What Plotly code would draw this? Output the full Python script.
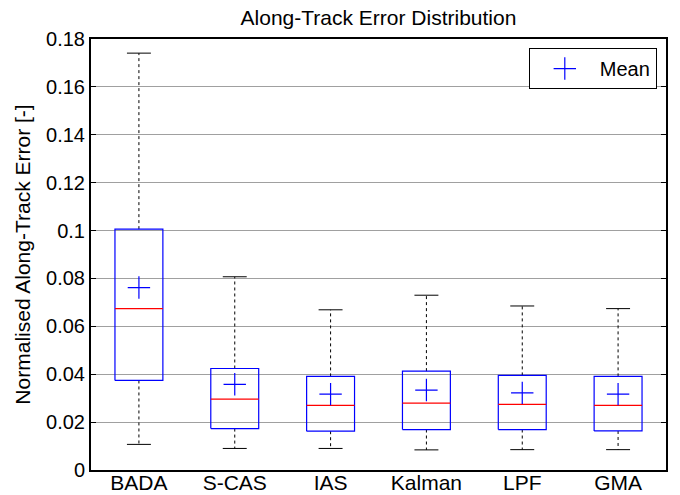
import plotly.graph_objects as go

# Summary statistics of normalised along-track error per speed source
categories = ["BADA", "S-CAS", "IAS", "Kalman", "LPF", "GMA"]
lower_whisker = [0.0107, 0.0090, 0.0090, 0.0084, 0.0085, 0.0085]
q1 = [0.0374, 0.0173, 0.0162, 0.0169, 0.0169, 0.0163]
median = [0.0674, 0.0296, 0.0270, 0.0279, 0.0274, 0.0270]
q3 = [0.1006, 0.0424, 0.0391, 0.0413, 0.0395, 0.0391]
upper_whisker = [0.1741, 0.0807, 0.0669, 0.0730, 0.0685, 0.0674]
mean = [0.0762, 0.0358, 0.0317, 0.0334, 0.0322, 0.0317]

y_ticks = [0, 0.02, 0.04, 0.06, 0.08, 0.10, 0.12, 0.14, 0.16, 0.18]
y_tick_text = ["0", "0.02", "0.04", "0.06", "0.08", "0.1", "0.12", "0.14", "0.16", "0.18"]

BOX_HALF = 0.25
CAP_HALF = 0.125
FONT = "Liberation Sans, Arial, sans-serif"

pos = list(range(1, len(categories) + 1))

box_x, box_y = [], []
med_x, med_y = [], []
wh_x, wh_y = [], []
cap_x, cap_y = [], []
for i, p in enumerate(pos):
    l, r = p - BOX_HALF, p + BOX_HALF
    box_x += [l, r, r, l, l, None]
    box_y += [q1[i], q1[i], q3[i], q3[i], q1[i], None]
    med_x += [l, r, None]
    med_y += [median[i], median[i], None]
    wh_x += [p, p, None, p, p, None]
    wh_y += [q3[i], upper_whisker[i], None, q1[i], lower_whisker[i], None]
    cap_x += [p - CAP_HALF, p + CAP_HALF, None, p - CAP_HALF, p + CAP_HALF, None]
    cap_y += [upper_whisker[i], upper_whisker[i], None, lower_whisker[i], lower_whisker[i], None]

fig = go.Figure()
fig.add_trace(go.Scatter(x=wh_x, y=wh_y, mode="lines", showlegend=False, hoverinfo="skip",
                         line=dict(color="black", width=1, dash="dot")))
fig.add_trace(go.Scatter(x=cap_x, y=cap_y, mode="lines", showlegend=False, hoverinfo="skip",
                         line=dict(color="black", width=1)))
fig.add_trace(go.Scatter(x=box_x, y=box_y, mode="lines", showlegend=False, hoverinfo="skip",
                         line=dict(color="#0000ff", width=1.2)))
fig.add_trace(go.Scatter(x=med_x, y=med_y, mode="lines", showlegend=False, hoverinfo="skip",
                         line=dict(color="#ff0000", width=1.2)))
fig.add_trace(go.Scatter(x=pos, y=mean, mode="markers", name="Mean",
                         marker=dict(symbol="cross-thin", size=16,
                                     line=dict(color="#0000ff", width=1.2))))

fig.update_layout(
    width=680, height=495,
    margin=dict(l=91, r=14, t=39, b=25),
    paper_bgcolor="white", plot_bgcolor="white",
    font=dict(family=FONT, size=20, color="black"),
    title=dict(text="Along-Track Error Distribution", x=0.5, xref="paper", xanchor="center",
               y=0.965, yanchor="middle", font=dict(size=21)),
    legend=dict(x=0.984, y=0.979, xanchor="right", yanchor="top",
                bordercolor="black", borderwidth=1, bgcolor="white",
                font=dict(size=20), itemwidth=60),
    xaxis=dict(range=[0.5, 6.5], tickvals=pos, ticktext=categories, automargin=False,
               showline=True, linecolor="black", linewidth=2, mirror=True,
               ticks="", showgrid=False, zeroline=False, tickfont=dict(size=21),
               ticklabelstandoff=-7),
    yaxis=dict(range=[0, 0.18], tickvals=y_ticks, ticktext=y_tick_text, automargin=False,
               showline=True, linecolor="black", linewidth=2, mirror="ticks",
               ticks="inside", ticklen=5, tickcolor="black",
               showgrid=True, gridcolor="#a0a0a0", gridwidth=1, zeroline=False,
               tickfont=dict(size=20),
               title=dict(text="Normalised Along-Track Error [-]", font=dict(size=21), standoff=10)),
)

fig.write_html("out.html")
